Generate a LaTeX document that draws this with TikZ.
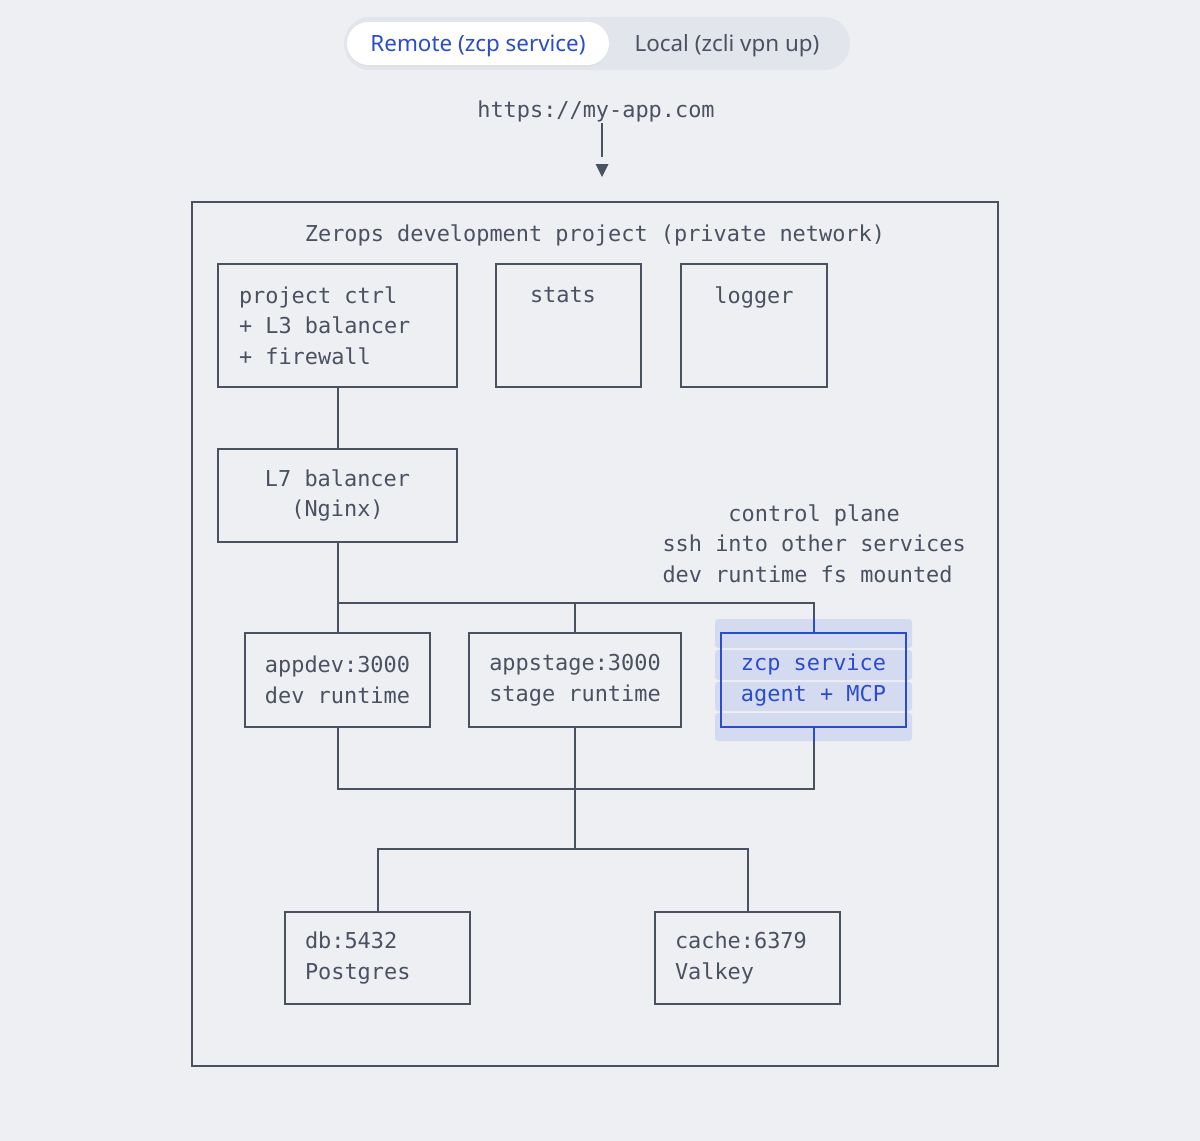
\documentclass[tikz,border=0pt]{standalone}
\usepackage{fontspec}
\usetikzlibrary{shadows}
\newfontfamily\monofont[WordSpace={1,0,0}]{DejaVu Sans Mono}
\newfontfamily\uifont{Noto Sans}
\definecolor{bgcol}{RGB}{238,239,243}
\definecolor{ink}{RGB}{74,81,97}
\definecolor{zblue}{RGB}{43,76,204}
\definecolor{hlblue}{RGB}{212,219,241}
\definecolor{track}{RGB}{226,229,235}
\tikzset{
  mono/.style={font=\monofont\fontsize{21.9}{30.7}\selectfont, text=ink},
  box/.style={mono, draw=ink, line width=2pt, inner ysep=0pt, align=left,
              execute at begin node={\spaceskip=0pt\xspaceskip=0pt}},
  wire/.style={draw=ink, line width=2pt},
  tab/.style={font=\uifont\fontsize{22.4}{26}\selectfont, inner sep=0pt},
}
\begin{document}
\begin{tikzpicture}[x=1pt, y=-1pt]
  \fill[bgcol] (0,0) rectangle (1200,1141);
  \useasboundingbox (0,0) rectangle (1200,1141);

  % mode toggle
  \node[fill=track, rounded corners=26pt, minimum width=506pt, minimum height=53pt] (toggle) at (597,43.5) {};
  \node[fill=white, rounded corners=21.5pt, minimum width=262pt, minimum height=43pt,
        drop shadow={opacity=0.06, shadow xshift=0pt, shadow yshift=-1.5pt}] (pill) at (478,43.5) {};
  \node[tab, text=zblue] (remote) at (478,46) {Remote (zcp service)};
  \node[tab, text=ink] (local) at (727,46) {Local (zcli vpn up)};

  % entry point
  \node[mono] (url) at (596,111.5) {https://my-app.com};
  \coordinate (urlfoot) at (602,123);
  \coordinate (tip) at (602,177);
  \draw[wire] (urlfoot) -- ++(0,34);
  \fill[ink] (tip) -- ++(-6.5,-13) -- ++(13,0) -- cycle;

  % project frame
  \draw[wire] (192,202) rectangle (998,1066);
  \node[mono] (ptitle) at (595,235.5) {Zerops development project (private network)};

  % top row
  \node[box, minimum width=239pt, minimum height=123pt, inner xsep=21pt, text width=197pt] (ctrl) at (337.5,325.5) {project ctrl\\+ L3 balancer\\+ firewall};
  \node[box, minimum width=145pt, minimum height=123pt, inner xsep=34pt, text width=77pt] (stats) at (568.5,325.5) {stats\\\mbox{}\\\mbox{}};
  \node[box, minimum width=146pt, minimum height=123pt, align=center, text width=126pt] (logger) at (754,325.5) {logger\\\mbox{}\\\mbox{}};

  \node[box, minimum width=239pt, minimum height=93pt, align=center, text width=197pt] (l7) at (337.5,495.5) {L7 balancer\\(Nginx)};

  \node[mono, align=left, anchor=west] (cplane) at (659,543.5) {\phantom{xxxxx}control plane\\ssh into other services\\dev runtime fs mounted};

  % selection behind the zcp service
  \foreach \top/\bot in {619/648, 650/680, 682/711, 713/741}
    \fill[hlblue, rounded corners=3pt] (715,\top) rectangle (912,\bot);

  % runtimes
  \node[box, minimum width=185pt, minimum height=94pt] (appdev) at (337.5,680) {appdev:3000\\dev runtime};
  \node[box, minimum width=212pt, minimum height=94pt] (appstage) at (575,680) {appstage:3000\\stage runtime};
  \node[box, draw=zblue, text=zblue, minimum width=185pt, minimum height=94pt, align=center] (zcp) at (813.5,680) {zcp service\\agent + MCP};

  % data services
  \node[box, minimum width=185pt, minimum height=92pt, inner xsep=20pt, text width=145pt] (db) at (377.5,958) {db:5432\\Postgres};
  \node[box, minimum width=185pt, minimum height=92pt, inner xsep=20pt, text width=145pt] (cache) at (747.5,958) {cache:6379\\Valkey};

  % wiring
  \draw[wire] (ctrl) -- (l7);
  \draw[wire] (l7) -- (appdev);
  \coordinate (upbus) at (337.5,603);
  \draw[wire] (upbus) -| (zcp.north);
  \draw[wire] (upbus -| appstage.north) -- (appstage.north);
  \draw[wire] (appdev.south) -- ++(0,61) -| (zcp.south);
  \coordinate (lowbus) at (575,849);
  \draw[wire] (appstage.south) -- (lowbus);
  \draw[wire] (db.north) |- (lowbus) -| (cache.north);
  \draw[wire, draw=zblue] (zcp.north) -- ++(0,-14);
  \draw[wire, draw=zblue] (zcp.south) -- ++(0,14);
\end{tikzpicture}
\end{document}
